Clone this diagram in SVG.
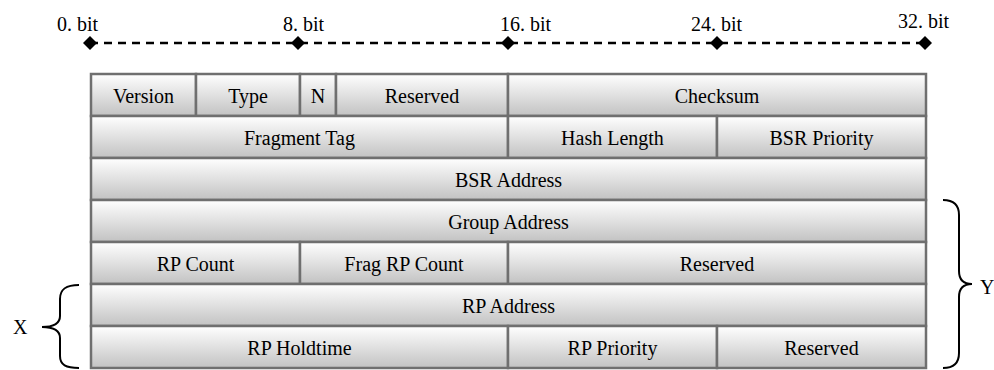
<svg xmlns="http://www.w3.org/2000/svg" width="994" height="370" viewBox="0 0 994 370">
<defs>
<linearGradient id="g" x1="0" y1="0" x2="0" y2="1">
<stop offset="0" stop-color="#ffffff"/>
<stop offset="1" stop-color="#c2c2c2"/>
</linearGradient>
</defs>
<rect width="994" height="370" fill="#fff"/>
<g id="ruler">
<line x1="90" y1="43" x2="925" y2="43" stroke="#000" stroke-width="2.5" stroke-dasharray="8,6"/>
<path fill="#000" d="M90,36 L97,43 L90,50 L83,43 Z"/>
<path fill="#000" d="M298,36 L305,43 L298,50 L291,43 Z"/>
<path fill="#000" d="M508,36 L515,43 L508,50 L501,43 Z"/>
<path fill="#000" d="M717,36 L724,43 L717,50 L710,43 Z"/>
<path fill="#000" d="M925,36 L932,43 L925,50 L918,43 Z"/>
<text x="57" y="31" style="font-family:'Liberation Serif',serif;font-size:20px">0. bit</text>
<text x="283" y="31" style="font-family:'Liberation Serif',serif;font-size:20px">8. bit</text>
<text x="500" y="31" style="font-family:'Liberation Serif',serif;font-size:20px">16. bit</text>
<text x="691" y="31" style="font-family:'Liberation Serif',serif;font-size:20px">24. bit</text>
<text x="898" y="28" style="font-family:'Liberation Serif',serif;font-size:20px">32. bit</text>
</g>
<g id="cells" fill="url(#g)" stroke="#6f6f6f" stroke-width="2.5">
<rect id="version" x="91" y="74" width="105" height="42"/>
<rect id="type" x="196" y="74" width="104" height="42"/>
<rect id="n" x="300" y="74" width="36" height="42"/>
<rect id="reserved1" x="336" y="74" width="172" height="42"/>
<rect id="checksum" x="508" y="74" width="418" height="42"/>
<rect id="fragtag" x="91" y="116" width="417" height="42"/>
<rect id="hashlen" x="508" y="116" width="209" height="42"/>
<rect id="bsrprio" x="717" y="116" width="209" height="42"/>
<rect id="bsraddr" x="91" y="158" width="835" height="42"/>
<rect id="groupaddr" x="91" y="200" width="835" height="42"/>
<rect id="rpcount" x="91" y="242" width="209" height="42"/>
<rect id="fragrpcount" x="300" y="242" width="208" height="42"/>
<rect id="reserved2" x="508" y="242" width="418" height="42"/>
<rect id="rpaddr" x="91" y="284" width="835" height="42"/>
<rect id="rpholdtime" x="91" y="326" width="417" height="42"/>
<rect id="rpprio" x="508" y="326" width="209" height="42"/>
<rect id="reserved3" x="717" y="326" width="209" height="42"/>
</g>
<g id="labels" text-anchor="middle">
<text x="143.5" y="103" style="font-family:'Liberation Serif',serif;font-size:20px">Version</text>
<text x="248" y="103" style="font-family:'Liberation Serif',serif;font-size:20px">Type</text>
<text x="318" y="103" style="font-family:'Liberation Serif',serif;font-size:20px">N</text>
<text x="422" y="103" style="font-family:'Liberation Serif',serif;font-size:20px">Reserved</text>
<text x="717" y="103" style="font-family:'Liberation Serif',serif;font-size:20px">Checksum</text>
<text x="299.5" y="145" style="font-family:'Liberation Serif',serif;font-size:20px">Fragment Tag</text>
<text x="612.5" y="145" style="font-family:'Liberation Serif',serif;font-size:20px">Hash Length</text>
<text x="821.5" y="145" style="font-family:'Liberation Serif',serif;font-size:20px">BSR Priority</text>
<text x="508.5" y="187" style="font-family:'Liberation Serif',serif;font-size:20px">BSR Address</text>
<text x="508.5" y="229" style="font-family:'Liberation Serif',serif;font-size:20px">Group Address</text>
<text x="195.5" y="271" style="font-family:'Liberation Serif',serif;font-size:20px">RP Count</text>
<text x="404" y="271" style="font-family:'Liberation Serif',serif;font-size:20px">Frag RP Count</text>
<text x="717" y="271" style="font-family:'Liberation Serif',serif;font-size:20px">Reserved</text>
<text x="508.5" y="313" style="font-family:'Liberation Serif',serif;font-size:20px">RP Address</text>
<text x="299.5" y="355" style="font-family:'Liberation Serif',serif;font-size:20px">RP Holdtime</text>
<text x="612.5" y="355" style="font-family:'Liberation Serif',serif;font-size:20px">RP Priority</text>
<text x="821.5" y="355" style="font-family:'Liberation Serif',serif;font-size:20px">Reserved</text>
</g>
<g id="braceX">
<path fill="none" stroke="#000" stroke-width="2" d="M79,285 C66,285 60,289 60,299 L60,316 C60,323 55,327 42,327 C55,327 60,331 60,338 L60,356 C60,365 66,368 79,368"/>
<text x="13" y="334" style="font-family:'Liberation Serif',serif;font-size:20px">X</text>
</g>
<g id="braceY">
<path fill="none" stroke="#000" stroke-width="2" d="M943,200 C953,200 959,205 959,215 L959,271 C959,280 963,284 972,284 C963,284 959,288 959,297 L959,353 C959,363 953,368 943,368"/>
<text x="980" y="294" style="font-family:'Liberation Serif',serif;font-size:20px">Y</text>
</g>
</svg>
